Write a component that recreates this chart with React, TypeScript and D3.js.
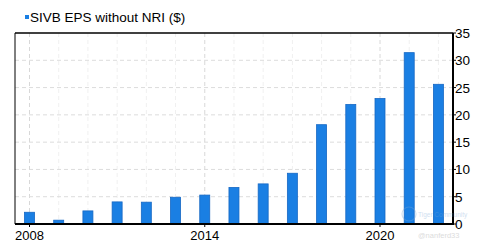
import React from "react";
import * as d3 from "d3";

const years = [2008, 2009, 2010, 2011, 2012, 2013, 2014, 2015, 2016, 2017, 2018, 2019, 2020, 2021, 2022];
const eps = [2.15, 0.7, 2.4, 4.05, 4.0, 4.9, 5.3, 6.7, 7.35, 9.3, 18.2, 21.9, 23.0, 31.4, 25.6];
const yTicks = [0, 5, 10, 15, 20, 25, 30, 35];
const xLabelYears = [2008, 2014, 2020];
const seriesName = "SIVB EPS without NRI ($)";

const W = 477, H = 244;
const left = 15, right = 453, top = 33, bottom = 224;

export default function App() {
  const x = d3.scaleLinear().domain([2008, 2020]).range([29.5, 380]);
  const y = d3.scaleLinear().domain([0, 35]).range([bottom, top]);
  const bw = 10;
  const font = "Liberation Sans, Arial, sans-serif";
  return (
    <svg width={W} height={H} style={{ position: "absolute", left: 0, top: 0, background: "#fff" }}>
      <rect x={0} y={0} width={W} height={H} fill="#fff" />
      {years.map((yr) => (
        <line key={"vg" + yr} x1={x(yr)} x2={x(yr)} y1={top} y2={bottom}
          stroke={xLabelYears.includes(yr) ? "#d8d8d8" : "#f0f0f0"} strokeDasharray="4,3" />
      ))}
      {yTicks.filter((t) => t > 0 && t < 35).map((t) => (
        <line key={"hg" + t} x1={left} x2={right} y1={y(t)} y2={y(t)} stroke="#dcdcdc" strokeDasharray="4,3" />
      ))}
      {years.map((yr, i) => (
        <rect key={"b" + yr} x={x(yr) - bw / 2} y={y(eps[i])} width={bw} height={bottom - y(eps[i])}
          fill="#1a7fe3" stroke="#1668c4" strokeWidth={0.8} />
      ))}
      <line x1={left} x2={left} y1={top} y2={bottom} stroke="#000" strokeWidth={1} />
      <line x1={left} x2={right} y1={top} y2={top} stroke="#000" strokeWidth={1.5} />
      <line x1={left} x2={right + 1} y1={bottom} y2={bottom} stroke="#000" strokeWidth={2} />
      <line x1={right} x2={right} y1={top} y2={bottom} stroke="#000" strokeWidth={2} />
      {yTicks.map((t) => (
        <g key={"yt" + t}>
          <line x1={right} x2={right + 3} y1={y(t)} y2={y(t)} stroke="#000" strokeWidth={1} />
          <text x={right + 2} y={y(t) + 5} fontSize={13.5} fontFamily={font} fill="#000">{t}</text>
        </g>
      ))}
      {xLabelYears.map((yr) => (
        <g key={"xt" + yr}>
          <line x1={x(yr)} x2={x(yr)} y1={bottom} y2={bottom + 3} stroke="#000" />
          <text x={x(yr)} y={240} fontSize={13} fontFamily={font} textAnchor="middle" fill="#000">{yr}</text>
        </g>
      ))}
      <rect x={25} y={15} width={4} height={4} fill="#1a7fe3" />
      <text x={30} y={22} fontSize={13.5} fontFamily={font} fill="#000">{seriesName}</text>
      <g opacity={0.35}>
        <circle cx={409} cy={214} r={7} fill="none" stroke="#7aa7d6" strokeWidth={1.2} />
        <text x={418} y={217} fontSize={6.5} fontFamily={font} fill="#7aa7d6">Tiger Community</text>
        <text x={418} y={238} fontSize={7.5} fontFamily={font} fill="#999">@nanferd33</text>
      </g>
    </svg>
  );
}
